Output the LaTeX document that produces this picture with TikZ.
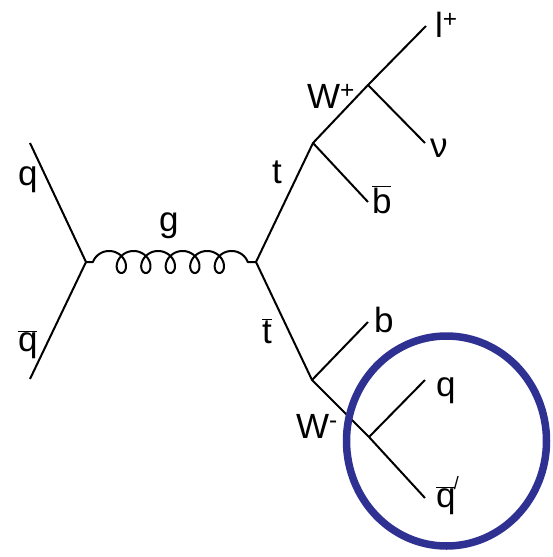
\documentclass[tikz,border=0pt]{standalone}
\usepackage{fontspec}
\setmainfont{Liberation Sans}
\usepackage{xcolor}
\definecolor{ringblue}{RGB}{46,49,146}
\newcommand{\ovl}[1]{\ensuremath{\overline{\mbox{#1}}}}

\begin{document}
\begin{tikzpicture}[x=1pt, y=-1pt, line width=2pt,
    lbl/.style={font=\fontsize{35}{37}\selectfont, inner sep=0pt, anchor=base west}]
  \useasboundingbox (0,0) rectangle (552,557);
  % vertices and outer ends
  \coordinate (qin)  at (30,143);
  \coordinate (qbin) at (30,379);
  \coordinate (v1)   at (86,262);
  \coordinate (v2)   at (256,262);
  \coordinate (tv)   at (313,143);
  \coordinate (tbv)  at (312,380);
  \coordinate (wpv)  at (368,85);
  \coordinate (lep)  at (426,26);
  \coordinate (nue)  at (425,143);
  \coordinate (bbe)  at (368,202);
  \coordinate (be)   at (368,322);
  \coordinate (wmv)  at (369,437);
  \coordinate (qe)   at (425,380);
  \coordinate (qbe)  at (425,498);
  \coordinate (jet)  at (446.5,441);
  % lines
  \draw (qin) -- (v1) -- (qbin);
  \draw[line join=round] (v1) -- plot[domain=-90:1890, samples=500, variable=\t]
        ({109.1+\t/14.694+10*sin(\t)},{262-11*cos(\t)}) -- (v2);
  \draw (v2) -- (tv) -- (wpv) -- (lep);
  \draw (wpv) -- (nue);
  \draw (tv) -- (bbe);
  \draw (v2) -- (tbv) -- (wmv) -- (qbe);
  \draw (tbv) -- (be);
  \draw (wmv) -- (qe);
  \draw[ringblue, line width=7.5pt] (jet) ellipse[x radius=100pt, y radius=105pt];
  % labels
  \node[lbl] (lq)   at (17,185)  {q};
  \node[lbl] (lqb)  at (17,351)  {\ovl{q}};
  \node[lbl] (lg)   at (158,231) {g};
  \node[lbl] (lt)   at (271,183) {t};
  \node[lbl] (ltb)  at (261,343) {\ovl{t}};
  \node[lbl] (lbb)  at (371,213) {\ovl{b}};
  \node[lbl] (lwp)  at (306,108) {W\textsuperscript{+}};
  \node[lbl] (llep) at (434,37)  {l\textsuperscript{+}};
  \node[lbl] (lnu)  at (429,157) {ν};
  \node[lbl] (lb)   at (373,332) {b};
  \node[lbl] (lwm)  at (295,438) {W\textsuperscript{-}};
  \node[lbl] (lq2)  at (435,396) {q};
  \node[lbl] (lqb2) at (435,507) {\ovl{q}\kern-1.5pt\raisebox{18pt}{\fontsize{18}{18}\selectfont /}};
\end{tikzpicture}
\end{document}
